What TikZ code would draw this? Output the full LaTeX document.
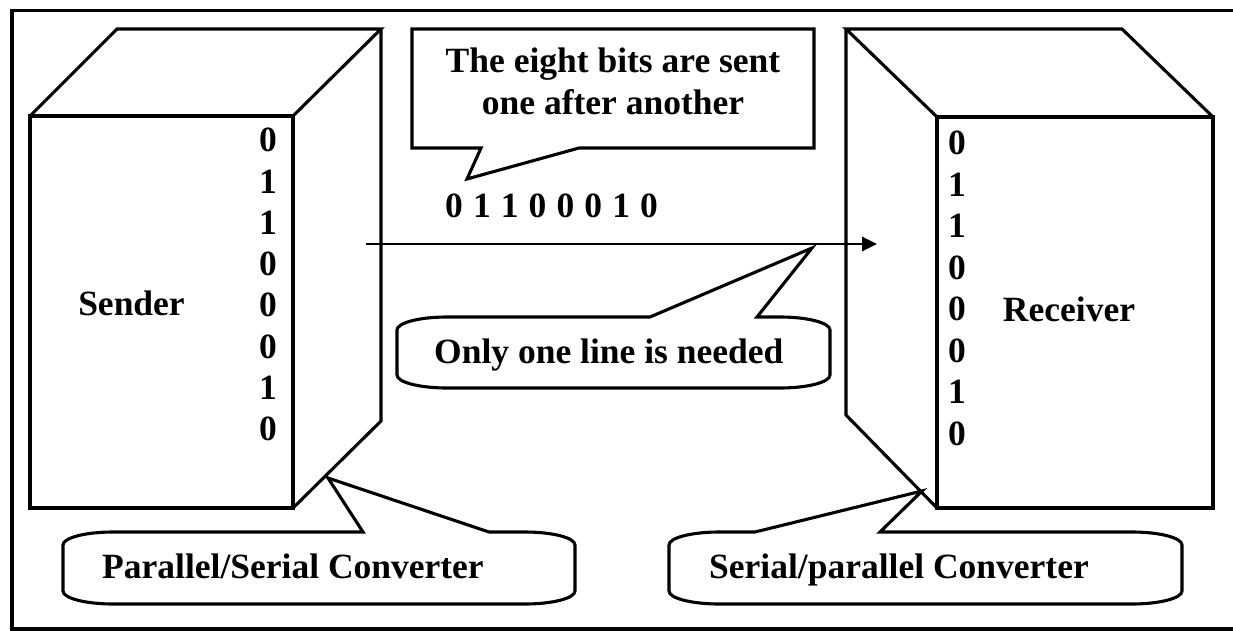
\documentclass[tikz,border=0pt]{standalone}
\usepackage{fontspec}
\setmainfont{Liberation Serif}
\usetikzlibrary{arrows.meta}

% Rounded callout: #1,#2 = top-left, #3,#4 = bottom-right,
% #5 = pointer start on top edge, #6 = pointer tip, #7 = pointer end on top edge
\newcommand\roundcallout[7]{%
  \draw[edge] (#1,#2+13) .. controls (#1,#2+5.8) and (#1+22.4,#2) .. (#1+50,#2)
    -- (#5,#2) -- #6 -- (#7,#2) -- (#3-50,#2)
    .. controls (#3-22.4,#2) and (#3,#2+5.8) .. (#3,#2+13)
    -- (#3,#4-13) .. controls (#3,#4-5.8) and (#3-22.4,#4) .. (#3-50,#4)
    -- (#1+50,#4) .. controls (#1+22.4,#4) and (#1,#4-5.8) .. (#1,#4-13)
    -- cycle;}

\begin{document}
\begin{tikzpicture}[x=1pt,y=-1pt,
  edge/.style={line width=3.1pt, line join=miter},
  txt/.style={font=\fontsize{35.5}{42}\selectfont\bfseries, inner sep=0pt},
  bit/.style={txt, anchor=center}]
\useasboundingbox (0,0) rectangle (1233,631);

% outer frame
\draw[line width=3.2pt] (1240,10.5) -- (12,10.5) -- (12,629) -- (1240,629);

% sender box
\draw[edge] (30,116) rectangle (293,508);
\draw[edge] (30,116) -- (117,29) -- (381,29) -- (293,116);
\draw[edge] (381,29) -- (381,421) -- (293,508);

% receiver box
\draw[edge] (937,117) rectangle (1213,508);
\draw[edge] (937,117) -- (846,29) -- (1122,29) -- (1213,117);
\draw[edge] (846,29) -- (846,415) -- (937,508);

\node[txt, anchor=base] (sender) at (131.5,315) {Sender};
\node[txt, anchor=base] (receiver) at (1069,321) {Receiver};

% parallel bits in each box
\foreach \b [count=\i] in {0,1,1,0,0,0,1,0} {
  \node[bit] (sb\i) at (268, 140+41.3*\i-41.3) {\b};
  \node[bit] (rb\i) at (957, 143+41.5*\i-41.5) {\b};
}

% the single serial line
\coordinate (linestart) at (366,244);
\coordinate (lineend) at (877,244);
\draw[line width=2.9pt, -{Triangle[length=15pt,width=14pt]}] (linestart) -- (lineend);

\node[txt, anchor=base west] (stream) at (445,217) {\spaceskip=10.1pt\relax 0 1 1 0 0 0 1 0};

% rectangular callout above the line
\draw[edge] (412,29) -- (814,29) -- (814,148) -- (579,148) -- (467,179) -- (481,148) -- (412,148) -- cycle;
\node[txt, anchor=base] (note1) at (613,73) {The eight bits are sent};
\node[txt, anchor=base] (note2) at (613,115) {one after another};

% rounded callouts
\roundcallout{397}{317}{830}{388}{650}{(812,248)}{757}
\node[txt, anchor=base west] (oneline) at (434,363) {Only one line is needed};

\roundcallout{63}{532}{575}{604}{363}{(328,478)}{489}
\node[txt, anchor=base west] (pstext) at (102,578) {Parallel/Serial Converter};

\roundcallout{669}{532}{1182}{604}{755}{(922,491)}{880}
\node[txt, anchor=base west] (sptext) at (709,578) {Serial/parallel Converter};
\end{tikzpicture}
\end{document}
